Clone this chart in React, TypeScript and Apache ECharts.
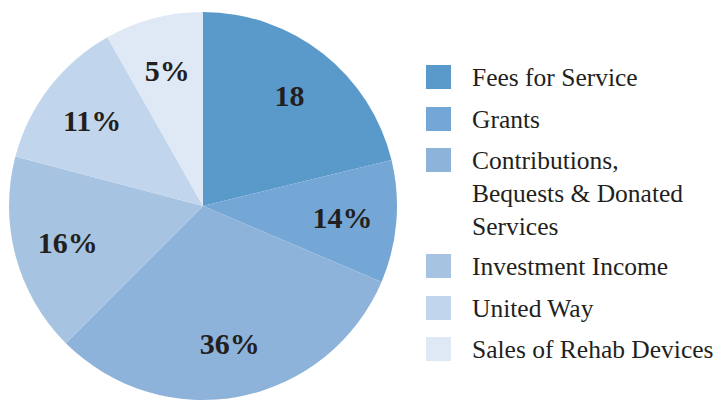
import React, { useEffect, useRef } from "react";
import * as echarts from "echarts";

const categories = [
  "Fees for Service",
  "Grants",
  "Contributions,\nBequests & Donated\nServices",
  "Investment Income",
  "United Way",
  "Sales of Rehab Devices",
];
const values = [21.2, 10.2, 31.1, 16.6, 12.7, 8.2];
const labelTexts = ["18", "14%", "36%", "16%", "11%", "5%"];
const colors = ["#5a9acb", "#74a7d5", "#8eb3da", "#a6c4e2", "#c1d6ec", "#dfe9f5"];

const legendCenters = [77, 119, 160, 266, 308, 349];

export default function App() {
  const ref = useRef<HTMLDivElement>(null);
  useEffect(() => {
    if (!ref.current) return;
    const chart = echarts.init(ref.current, null, { renderer: "svg" });
    const LH = 33;
    const legends = categories.map((name, i) => {
      const lines = name.split("\n").length;
      const extra = lines - 1; // blank lines prepended so the first line centres on the icon
      const totalLines = lines + extra;
      const boxH = totalLines * LH;
      const boxTop = 12 - boxH / 2;
      const rectTop = Math.min(0, boxTop);
      return {
        orient: "vertical",
        left: 426,
        top: legendCenters[i] - 12 + rectTop,
        padding: 0,
        itemWidth: 25,
        itemHeight: 24,
        icon: "rect",
        selectedMode: false,
        formatter: (n: string) => "\n".repeat(extra) + n,
        data: [{ name, itemStyle: { color: colors[i] } }],
        textStyle: {
          fontFamily: "Liberation Serif",
          fontSize: 25.5,
          color: "#231f20",
          lineHeight: LH,
          padding: [0, 0, 0, 16],
        },
      };
    });
    const data = categories.map((name, i) => ({
      name,
      value: values[i],
      itemStyle: { color: colors[i] },
    }));
    chart.setOption({
      animation: false,
      legend: legends,
      series: [
        {
          type: "pie",
          center: [203, 206],
          radius: [0, 194],
          startAngle: 90,
          clockwise: true,
          avoidLabelOverlap: false,
          label: { show: false },
          labelLine: { show: false },
          itemStyle: { borderWidth: 0 },
          emphasis: { disabled: true },
          data,
        },
        {
          type: "pie",
          center: [203, 206],
          radius: [80, 194],
          startAngle: 90,
          clockwise: true,
          silent: true,
          legendHoverLink: false,
          avoidLabelOverlap: false,
          itemStyle: { color: "rgba(0,0,0,0)", borderWidth: 0 },
          label: {
            show: true,
            position: "inside",
            formatter: (p: any) => labelTexts[p.dataIndex],
            fontFamily: "Liberation Serif",
            fontWeight: "bold",
            fontSize: 30,
            color: "#231f20",
          },
          labelLine: { show: false },
          emphasis: { disabled: true },
          data: categories.map((name, i) => ({ name, value: values[i] })),
        },
      ],
    });
    return () => chart.dispose();
  }, []);
  return (
    <div
      ref={ref}
      style={{ position: "fixed", left: 0, top: 0, width: 720, height: 401, background: "#fff" }}
    />
  );
}
